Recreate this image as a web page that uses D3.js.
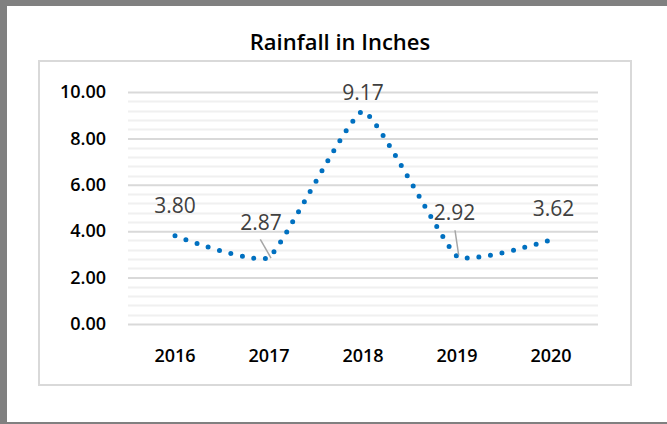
<!DOCTYPE html>
<html><head><meta charset="utf-8">
<script src="https://cdn.jsdelivr.net/npm/d3@7"></script>
<style>
html,body{margin:0;padding:0;background:#fff;}
svg{display:block;font-family:"Open Sans","Noto Sans",sans-serif;}
</style></head>
<body>
<svg id="c" width="667" height="424"></svg>
<script>
const categories = ["2016","2017","2018","2019","2020"];
const rainfall = [3.80, 2.87, 9.17, 2.92, 3.62];
const yTicks = [0, 2, 4, 6, 8, 10];
const chartTitle = "Rainfall in Inches";

const svg = d3.select("#c");
svg.append("rect").attr("x",0).attr("y",0).attr("width",667).attr("height",424).attr("fill","#fff");
svg.append("rect").attr("x",0).attr("y",0).attr("width",667).attr("height",6).attr("fill","#808080");
svg.append("rect").attr("x",0).attr("y",0).attr("width",7).attr("height",424).attr("fill","#808080");
svg.append("rect").attr("x",0).attr("y",422).attr("width",667).attr("height",2).attr("fill","#808080");
svg.append("rect").attr("x",39).attr("y",61).attr("width",592).attr("height",324)
  .attr("fill","#fff").attr("stroke","#d9d9d9").attr("stroke-width",2);

svg.append("text").attr("x",340).attr("y",50).attr("text-anchor","middle")
  .attr("font-size",22).attr("font-weight",600).attr("fill","#000").text(chartTitle);

const x = d3.scaleBand().domain(categories).range([128, 598]);
const y = d3.scaleLinear().domain([0, 10]).range([324, 92]);

const minor = d3.range(0, 10.0001, 0.4).filter(v => Math.abs(v/2 - Math.round(v/2)) > 1e-6);
svg.append("g").selectAll("line").data(minor).join("line")
  .attr("x1",128).attr("x2",598).attr("y1",d=>Math.round(y(d))+0.5).attr("y2",d=>Math.round(y(d))+0.5)
  .attr("stroke","#f0f0f0").attr("stroke-width",2);

const yAxis = d3.axisLeft(y).tickValues(yTicks).tickFormat(d3.format(".2f")).tickSize(-470).tickPadding(22);
const gy = svg.append("g").attr("transform","translate(128,0)").call(yAxis);
gy.select(".domain").remove();
gy.selectAll(".tick line").attr("stroke","#d9d9d9").attr("stroke-width",2);
gy.selectAll(".tick text").attr("font-size",18).attr("font-weight",600).attr("fill","#000")
  .attr("font-family","'Open Sans','Noto Sans',sans-serif");

const xAxis = d3.axisBottom(x).tickSize(0).tickPadding(25);
const gx = svg.append("g").attr("transform","translate(0,324)").call(xAxis);
gx.select(".domain").remove();
gx.selectAll(".tick text").attr("font-size",18).attr("font-weight",600).attr("fill","#000")
  .attr("font-family","'Open Sans','Noto Sans',sans-serif");

const cx = d => x(d) + x.bandwidth()/2;
const pts = categories.map((c,i)=>[cx(c), y(rainfall[i])]);

svg.append("path").attr("d", d3.line().curve(d3.curveCardinal.tension(0.6))(pts))
  .attr("fill","none").attr("stroke","#0070C0").attr("stroke-width",5)
  .attr("stroke-linecap","round").attr("stroke-dasharray","0 11.7");

const labelOffsets = [[0,-23],[-8,-27],[0,-11],[-2.5,-36],[2.5,-24]];
const leaders = [null, [[-8.7,-18],[2,0.6]], null, [[-2,-26],[1.7,-1]], null];
leaders.forEach((l,i)=>{
  if(!l) return;
  svg.append("line").attr("x1",pts[i][0]+l[0][0]).attr("y1",pts[i][1]+l[0][1])
    .attr("x2",pts[i][0]+l[1][0]).attr("y2",pts[i][1]+l[1][1])
    .attr("stroke","#a6a6a6").attr("stroke-width",1.5);
});
svg.append("g").selectAll("text").data(rainfall).join("text")
  .attr("x",(d,i)=>pts[i][0]+labelOffsets[i][0])
  .attr("y",(d,i)=>pts[i][1]+labelOffsets[i][1])
  .attr("text-anchor","middle").attr("font-size",21).attr("fill","#404040")
  .text(d=>d3.format(".2f")(d));
</script>
</body></html>
